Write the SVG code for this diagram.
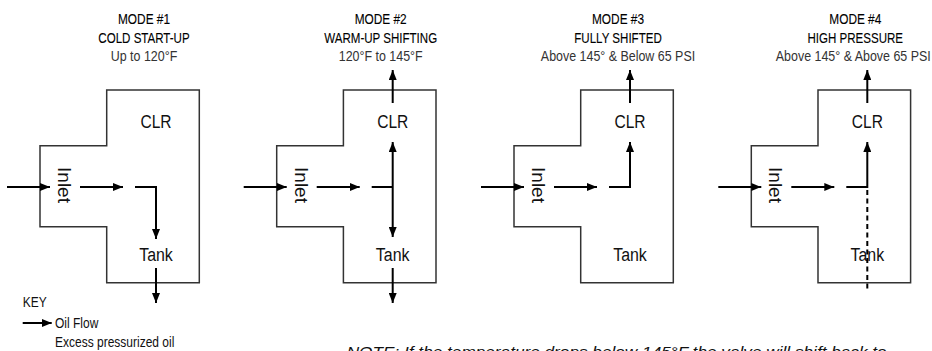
<svg xmlns="http://www.w3.org/2000/svg" width="932" height="351" viewBox="0 0 932 351">
<defs>
<style>
text{font-family:"Liberation Sans",Arial,sans-serif;}
.t1{font-size:15px;fill:#000;stroke:#000;stroke-width:0.12;text-anchor:middle;}
.t3{font-size:15px;fill:#333;text-anchor:middle;}
.lbl{font-size:19px;fill:#111;text-anchor:middle;}
.box{fill:none;stroke:#333;stroke-width:1.5;}
.flow{fill:none;stroke:#000;stroke-width:2;}
.dash{fill:none;stroke:#000;stroke-width:2;stroke-dasharray:5 3.5;}
.key{font-size:15px;fill:#111;}
.note{font-size:15px;font-style:italic;fill:#111;}
</style>
<marker id="ah" viewBox="0 0 10 8" refX="10" refY="4" markerWidth="10" markerHeight="8" markerUnits="userSpaceOnUse" orient="auto">
<path d="M0,0 L10,4 L0,8 Z" fill="#000"/>
</marker>
</defs>

<g id="mode1" transform="translate(0,0)">
<text class="t1" transform="translate(144,23.5) scale(0.79,1)">MODE #1</text>
<text class="t1" transform="translate(144,42.5) scale(0.77,1)">COLD START-UP</text>
<text class="t3" transform="translate(144,61) scale(0.83,1)">Up to 120°F</text>
<path class="box" d="M106.7,90 H199.3 V282.7 H106.7 V226.7 H40 V145.7 H106.7 Z"/>
<text class="lbl" transform="translate(156,128) scale(0.82,1)">CLR</text>
<text class="lbl" transform="translate(156,261) scale(0.84,1)">Tank</text>
<text class="lbl" transform="translate(58,185) rotate(90)">Inlet</text>
</g>

<g id="mode2" transform="translate(236.7,0)">
<text class="t1" transform="translate(144,23.5) scale(0.79,1)">MODE #2</text>
<text class="t1" transform="translate(144,42.5) scale(0.77,1)">WARM-UP SHIFTING</text>
<text class="t3" transform="translate(144,61) scale(0.83,1)">120°F to 145°F</text>
<path class="box" d="M106.7,90 H199.3 V282.7 H106.7 V226.7 H40 V145.7 H106.7 Z"/>
<text class="lbl" transform="translate(156,128) scale(0.82,1)">CLR</text>
<text class="lbl" transform="translate(156,261) scale(0.84,1)">Tank</text>
<text class="lbl" transform="translate(58,185) rotate(90)">Inlet</text>
</g>

<g id="mode3" transform="translate(474,0)">
<text class="t1" transform="translate(144,23.5) scale(0.79,1)">MODE #3</text>
<text class="t1" transform="translate(144,42.5) scale(0.77,1)">FULLY SHIFTED</text>
<text class="t3" transform="translate(144,61) scale(0.83,1)">Above 145° &amp; Below 65 PSI</text>
<path class="box" d="M106.7,90 H199.3 V282.7 H106.7 V226.7 H40 V145.7 H106.7 Z"/>
<text class="lbl" transform="translate(156,128) scale(0.82,1)">CLR</text>
<text class="lbl" transform="translate(156,261) scale(0.84,1)">Tank</text>
<text class="lbl" transform="translate(58,185) rotate(90)">Inlet</text>
</g>

<g id="mode4" transform="translate(711.3,0)">
<text class="t1" transform="translate(144,23.5) scale(0.79,1)">MODE #4</text>
<text class="t1" transform="translate(144,42.5) scale(0.77,1)">HIGH PRESSURE</text>
<text class="t3" transform="translate(142,61) scale(0.83,1)">Above 145° &amp; Above 65 PSI</text>
<path class="box" d="M106.7,90 H199.3 V282.7 H106.7 V226.7 H40 V145.7 H106.7 Z"/>
<text class="lbl" transform="translate(156,128) scale(0.82,1)">CLR</text>
<text class="lbl" transform="translate(156,261) scale(0.84,1)">Tank</text>
<text class="lbl" transform="translate(58,185) rotate(90)">Inlet</text>
</g>

<g id="connectors">
<g transform="translate(0,0)">
<path class="flow" d="M7,187 H50" marker-end="url(#ah)"/>
<path class="flow" d="M80,187 H123" marker-end="url(#ah)"/>
<path class="flow" d="M135,187 H156 V239" marker-end="url(#ah)"/>
<path class="flow" d="M156,268 V303" marker-end="url(#ah)"/>
</g>
<g transform="translate(236.7,0)">
<path class="flow" d="M7,187 H50" marker-end="url(#ah)"/>
<path class="flow" d="M80,187 H123" marker-end="url(#ah)"/>
<path class="flow" d="M135,187 H156"/>
<path class="flow" d="M156,187 V142" marker-end="url(#ah)"/>
<path class="flow" d="M156,187 V237" marker-end="url(#ah)"/>
<path class="flow" d="M156,103 V70" marker-end="url(#ah)"/>
<path class="flow" d="M156,268 V303" marker-end="url(#ah)"/>
</g>
<g transform="translate(474,0)">
<path class="flow" d="M7,187 H50" marker-end="url(#ah)"/>
<path class="flow" d="M80,187 H123" marker-end="url(#ah)"/>
<path class="flow" d="M135,187 H156 V142" marker-end="url(#ah)"/>
<path class="flow" d="M156,103 V70" marker-end="url(#ah)"/>
</g>
<g transform="translate(711.3,0)">
<path class="flow" d="M7,187 H50" marker-end="url(#ah)"/>
<path class="flow" d="M80,187 H123" marker-end="url(#ah)"/>
<path class="flow" d="M135,187 H156 V142" marker-end="url(#ah)"/>
<path class="flow" d="M156,103 V70" marker-end="url(#ah)"/>
<path class="dash" d="M156,190 V292"/>
</g>
</g>

<g id="key">
<text class="key" transform="translate(22.7,307) scale(0.8,1)">KEY</text>
<path class="flow" d="M22.7,323 H51.7" marker-end="url(#ah)"/>
<text class="key" transform="translate(55,327.5) scale(0.8,1)">Oil Flow</text>
<text class="key" transform="translate(55,347) scale(0.8,1)">Excess pressurized oil</text>
</g>

<text class="note" x="346.7" y="357" textLength="540" lengthAdjust="spacingAndGlyphs">NOTE: If the temperature drops below 145°F the valve will shift back to</text>
</svg>
